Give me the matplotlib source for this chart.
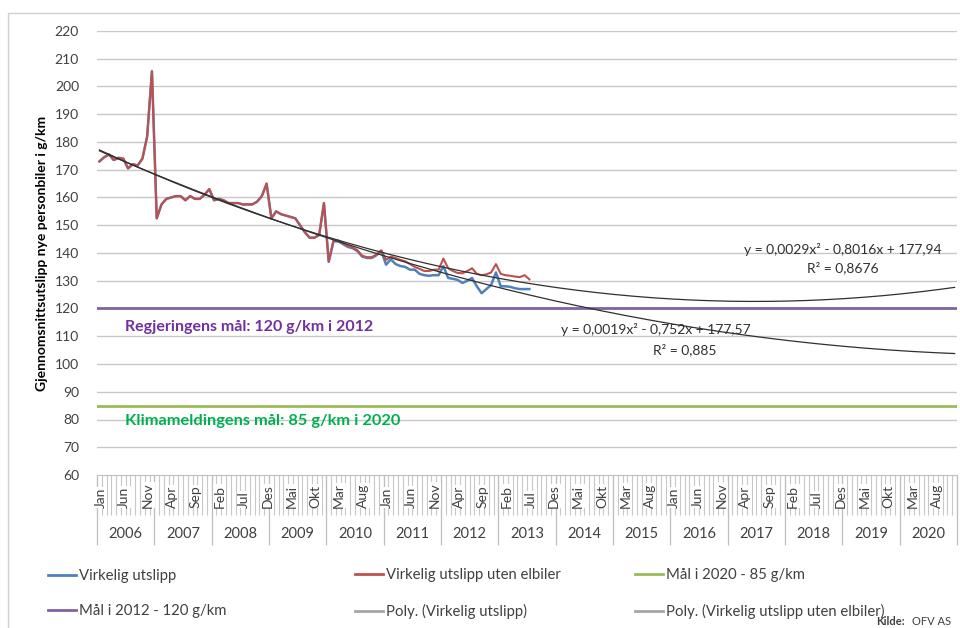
import numpy as np
import matplotlib
matplotlib.use("Agg")
import matplotlib.pyplot as plt
from matplotlib.lines import Line2D
from matplotlib.patches import Rectangle

plt.rcParams['font.family'] = ['Lato', 'DejaVu Sans']

# ----- Data (monthly, Jan 2006 - Jul 2013) -----
month_names = ["Jan", "Feb", "Mar", "Apr", "Mai", "Jun",
               "Jul", "Aug", "Sep", "Okt", "Nov", "Des"]
years = list(range(2006, 2021))

# Virkelig utslipp uten elbiler (red)
uten_elbiler = [
    173, 174.5, 175.5, 173.5, 174.3, 174, 170.5, 172, 171.5, 174,
    182, 205.5, 152.5, 157.5, 159.5, 160, 160.5, 160.5, 159, 160.5,
    159.5, 159.5, 161, 163, 159, 159.5, 159, 158, 158, 158,
    157.5, 157.5, 157.5, 158.5, 160.5, 165, 152.5, 155, 154, 153.5,
    153, 152.5, 150, 147.5, 145.5, 145.5, 146.5, 158, 137, 144.5,
    144.5, 143.5, 142.5, 142, 141, 139, 138.5, 138.5, 139.5, 141,
    137.5, 138.7, 138.2, 137.5, 137, 136, 135, 134.3, 133.5, 133.5,
    134, 134, 138, 134.5, 133.5, 132.8, 132.7, 133.5, 134.5, 132.5,
    132, 132.3, 133, 136, 132.5, 132, 131.8, 131.5, 131.3, 132,
    130.5,
]

# Virkelig utslipp (blue)
virkelig = [
    173, 174.5, 175.5, 173.5, 174.3, 174, 170.5, 172, 171.5, 174,
    182, 205.5, 152.5, 157.5, 159.5, 160, 160.5, 160.5, 159, 160.5,
    159.5, 159.5, 161, 163, 159, 159.5, 159, 158, 158, 158,
    157.5, 157.5, 157.5, 158.5, 160.5, 165, 152.5, 155, 154, 153.5,
    153, 152.5, 150, 147.5, 145.5, 145.5, 146.5, 158, 136.8, 144.2,
    144.2, 143.2, 142.2, 141.7, 140.7, 138.7, 138.2, 138.2, 139.2, 140.7,
    135.8, 137.7, 136, 135.3, 135, 134, 134, 132.5, 132, 131.8,
    132, 132, 135.3, 131, 130.7, 130.3, 129.2, 130, 131, 128,
    125.5, 127, 128.5, 133, 128, 128, 127.8, 127.3, 127, 127,
    127,
]

# trendline coefficients as printed in the chart (Excel, x = 1..180)
poly_virkelig = [0.0019, -0.752, 177.57]
poly_uten = [0.0029, -0.8016, 177.94]
eq_virkelig = ["y = 0,0019x² - 0,752x + 177,57", "R² = 0,885"]
eq_uten = ["y = 0,0029x² - 0,8016x + 177,94", "R² = 0,8676"]

maal_2012 = 120
maal_2020 = 85

n_months = len(years) * 12

# ----- Colours -----
c_blue = "#4F81BD"
c_red = "#C0504D"
c_green = "#9BBB59"
c_purple = "#8064A2"
c_poly = "#A6A6A6"
c_grid = "#C8C8C8"

fig = plt.figure(figsize=(9.6, 6.28), dpi=100)
ax = fig.add_axes([97 / 960, 1 - 475 / 628, 860 / 960, 444 / 628])

ax.set_xlim(0, n_months)
ax.set_ylim(60, 220)
ax.set_yticks(range(60, 221, 10))
ax.tick_params(axis='y', length=0, labelsize=10, labelcolor="#404040", pad=13)
for v in range(70, 221, 10):
    ax.axhline(v, color=c_grid, lw=1, zorder=0)
for s in ["top", "right", "left"]:
    ax.spines[s].set_visible(False)
ax.spines["bottom"].set_color("#BFBFBF")
ax.set_xticks([])

ax.set_ylabel("Gjennomsnittsutslipp nye personbiler i g/km", fontsize=10,
              fontweight="bold", labelpad=5)

# target lines
ax.axhline(maal_2012, color=c_purple, lw=2, zorder=2)
ax.axhline(maal_2020, color=c_green, lw=2, zorder=2)

# series
x_data = np.arange(len(virkelig)) + 0.5
ax.plot(x_data, virkelig, color=c_blue, lw=1.8, zorder=3)
ax.plot(x_data, uten_elbiler, color=c_red, lw=1.5, zorder=4)

# trendlines
x_all = np.arange(n_months)
ax.plot(x_all + 0.5, np.polyval(poly_virkelig, x_all + 1), color="#303030", lw=0.9, zorder=5)
ax.plot(x_all + 0.5, np.polyval(poly_uten, x_all + 1), color="#303030", lw=0.9, zorder=5)

ax.text(156, 141.2, eq_uten[0], fontsize=10, ha="center", va="center", color="#303030")
ax.text(156, 134.6, eq_uten[1], fontsize=10, ha="center", va="center", color="#303030")
ax.text(117, 112.4, eq_virkelig[0], fontsize=10, ha="center", va="center", color="#303030")
ax.text(123, 105.2, eq_virkelig[1], fontsize=10, ha="center", va="center", color="#303030")

ax.text(5.9, 113.3, "Regjeringens mål: 120 g/km i 2012", fontsize=11.5,
        fontweight="bold", color="#7030A0", va="center")
ax.text(5.9, 79.5, "Klimameldingens mål: 85 g/km i 2020", fontsize=11.8,
        fontweight="bold", color="#00B050", va="center")

# ----- multi-level category axis -----
trans = ax.get_xaxis_transform()
ax.vlines(np.arange(n_months + 1), -0.09, 0, transform=trans, color="#C8C8C8",
          lw=0.8, clip_on=False)
ax.vlines(np.arange(0, n_months + 1, 12), -0.158, 0, transform=trans,
          color="#BFBFBF", lw=0.9, clip_on=False)
for i in range(0, n_months, 5):
    ax.text(i + 0.7, -0.074, month_names[i % 12], transform=trans, rotation=90,
            ha="center", va="bottom", fontsize=10, color="#404040",
            bbox=dict(facecolor="white", edgecolor="none", pad=0.3))
for k, yr in enumerate(years):
    ax.text(k * 12 + 6, -0.133, str(yr), transform=trans, ha="center",
            va="center", fontsize=10.5, color="#404040")

# ----- legend (three columns) -----
cols = [
    [(c_blue, "Virkelig utslipp"), (c_purple, "Mål i 2012 - 120 g/km")],
    [(c_red, "Virkelig utslipp uten elbiler"), (c_poly, "Poly. (Virkelig utslipp)")],
    [(c_green, "Mål i 2020 - 85 g/km"), (c_poly, "Poly. (Virkelig utslipp uten elbiler)")],
]
col_x = [48, 355, 635]
for cx, entries in zip(col_x, cols):
    handles = [Line2D([], [], color=c, lw=2) for c, _ in entries]
    labels = [t for _, t in entries]
    leg = fig.legend(handles, labels, loc="center left",
                     bbox_to_anchor=(cx / 960, 1 - 593.5 / 628), frameon=False,
                     fontsize=10.7, handlelength=1.9, handletextpad=0.2,
                     labelspacing=1.45, borderpad=0, borderaxespad=0)
    for t in leg.get_texts():
        t.set_color("#404040")

fig.text(0.913, 0.004, "Kilde:", fontsize=8, fontweight="bold", color="#404040")
fig.text(0.950, 0.004, "OFV AS", fontsize=8, color="#404040")

fig.add_artist(Rectangle((8 / 960, -0.05), 1.2, 1 - 13 / 628 + 0.05,
                         transform=fig.transFigure, fill=False,
                         edgecolor="#D0D0D0", lw=1))

fig.savefig("out.png", dpi=100)
